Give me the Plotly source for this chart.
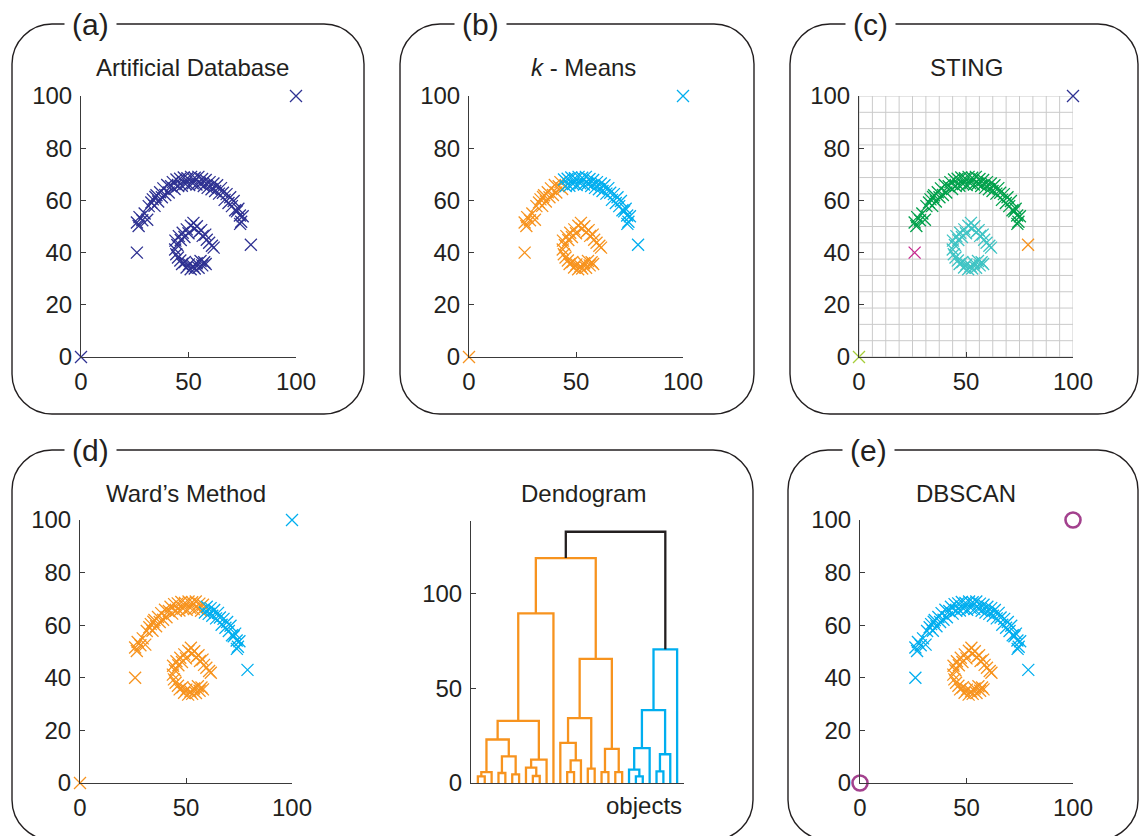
import plotly.graph_objects as go

W, H = 1139, 836
FONT = "Liberation Sans, Arial, Helvetica, sans-serif"
TXT = "#231F20"
AX = "#3A3A3A"

# ---------------- data ----------------
# arc-shaped cluster, ordered left to right
arc_x = [26.0, 27.2, 26.8, 28.5, 29.6, 30.8,
         31.5, 32.7, 33.4, 34.2, 35.1, 35.9, 36.8, 34.6,
         37.6, 38.3, 39.2, 40.1, 40.8, 41.9, 42.7, 43.5, 44.4, 45.2,
         46.1, 46.9, 47.8, 48.6, 49.5, 50.3, 51.2, 52.0, 52.9, 53.7, 54.6, 55.4,
         56.3, 57.1, 58.0, 58.9, 59.8, 60.7, 61.6, 62.4, 63.3, 64.2, 65.1,
         66.0, 66.8, 67.7, 68.6, 69.4, 70.2, 71.0, 71.7, 72.5, 73.2, 73.9, 74.5, 75.2, 74.0]
arc_y = [51.5, 53.6, 50.2, 52.4, 55.0, 52.6,
         57.8, 59.2, 60.4, 57.9, 62.0, 59.6, 63.1, 61.3,
         61.2, 64.6, 62.1, 65.9, 63.0, 65.4, 67.0, 64.4, 68.0, 65.5,
         68.3, 65.6, 68.8, 66.3, 68.5, 65.9, 69.0, 66.6, 68.7, 66.1, 69.0, 66.4,
         68.2, 65.5, 67.8, 64.8, 67.0, 64.3, 66.5, 63.6, 65.8, 62.6, 64.7,
         62.9, 60.2, 62.4, 59.0, 61.2, 57.8, 59.8, 56.2, 55.8, 56.8, 54.2, 51.8, 53.9, 51.0]
# ring-shaped cluster
ring_x = [43.9, 44.8, 45.5, 46.4, 47.3, 48.1, 49.2, 50.0, 51.1, 52.3, 52.8, 53.9, 54.8, 55.9, 56.6, 57.8, 58.5, 59.6, 60.9, 61.7,
          43.8, 44.3, 45.1, 46.2, 47.0, 48.3, 49.1, 50.2, 51.0, 52.1, 52.9, 53.8, 54.7, 55.6, 56.4, 57.3, 58.0]
ring_y = [44.6, 42.9, 46.3, 44.8, 47.6, 46.0, 48.9, 47.4, 50.3, 51.4, 49.2, 50.1, 47.8, 48.6, 46.4, 46.9, 44.9, 43.8, 42.6, 41.9,
          41.2, 39.4, 38.1, 37.0, 35.6, 36.4, 34.3, 35.5, 33.6, 34.8, 33.9, 35.9, 34.2, 36.8, 35.1, 36.3, 35.6]
# isolated points
out_x = [0, 100, 26, 79]
out_y = [0, 100, 40, 43]

# cluster labels per point (arc, ring, isolated)
kmeans_arc = "oooooo" "oooooooo" "oooooooocc" "cccccccccccc" "ccccccccccc" "cccccccccccccc"
kmeans_ring = "oooooooooooooooooooo" "ooooooooooooooooo"
kmeans_out = "ococ"
ward_arc = "oooooo" "oooooooo" "oooooooooo" "oooooooooooo" "ooocccccccc" "cccccccccccccc"
ward_ring = "oooooooooooooooooooo" "ooooooooooooooooo"
ward_out = "ococ"
sting_arc = "gggggg" "gggggggg" "gggggggggg" "gggggggggggg" "ggggggggggg" "gggggggggggggg"
sting_ring = "tttttttttttttttttttt" "ttttttttttttttttt"
sting_out = "ynmo"
dbscan_arc = "cccccc" "cccccccc" "cccccccccc" "cccccccccccc" "ccccccccccc" "cccccccccccccc"
dbscan_ring = "oooooooooooooooooooo" "ooooooooooooooooo"
dbscan_out = "ppcc"

# dendrogram (30 leaves in display order, ids 0..29; merged clusters get ids 30..)
dend_left = [0, 30, 3, 5, 32, 31, 8, 7, 37, 35, 39, 13, 41, 12, 16, 43, 18, 20, 46, 45, 40,
             23, 22, 52, 26, 54, 53, 56, 50]
dend_right = [1, 2, 4, 6, 33, 34, 9, 36, 10, 38, 11, 14, 15, 42, 17, 44, 19, 21, 47, 48, 49,
              24, 51, 25, 27, 28, 55, 29, 57]
dend_height = [3.5, 5.8, 5.3, 4.6, 14.1, 23.0, 3.7, 8.1, 12.4, 32.9, 89.7, 5.8, 12.0, 21.2, 7.6, 34.3,
               5.8, 5.8, 18.0, 65.7, 119.0, 3.5, 7.1, 18.5, 6.2, 15.2, 38.5, 70.7, 132.9]
dend_group = "ooooooooooooooooooooo" "ccccccc" "k"
n_leaves = 30

palette = {"n": "#2E3192", "o": "#F7931E", "c": "#00AEEF", "g": "#00A14B",
           "t": "#3FC4C4", "m": "#C7288F", "y": "#A6CE39", "p": "#A3418E", "k": "#231F20"}

all_x = arc_x + ring_x + out_x
all_y = arc_y + ring_y + out_y


# ---------------- helpers ----------------
def xd(p0, p1):
    return [p0 / W, p1 / W]


def yd(top, bottom):
    return [1 - bottom / H, 1 - top / H]


def px(x, y):
    return "%.5f,%.5f" % (x / W, 1 - y / H)


def rrect(x0, y0, x1, y1, r):
    k = 0.5523 * r
    return ("M" + px(x0 + r, y0) + " L" + px(x1 - r, y0) +
            " C" + px(x1 - r + k, y0) + " " + px(x1, y0 + r - k) + " " + px(x1, y0 + r) +
            " L" + px(x1, y1 - r) +
            " C" + px(x1, y1 - r + k) + " " + px(x1 - r + k, y1) + " " + px(x1 - r, y1) +
            " L" + px(x0 + r, y1) +
            " C" + px(x0 + r - k, y1) + " " + px(x0, y1 - r + k) + " " + px(x0, y1 - r) +
            " L" + px(x0, y0 + r) +
            " C" + px(x0, y0 + r - k) + " " + px(x0 + r - k, y0) + " " + px(x0 + r, y0) + " Z")


fig = go.Figure()


def add_points(labels, xa, ya):
    groups = {}
    for xv, yv, lab in zip(all_x, all_y, labels):
        groups.setdefault(lab, ([], []))
        groups[lab][0].append(xv)
        groups[lab][1].append(yv)
    for lab, (gx, gy) in groups.items():
        col = palette[lab]
        if lab == "p":
            mk = dict(symbol="circle-open", size=15, color=col, line=dict(width=2.6, color=col))
        else:
            mk = dict(symbol="x-thin", size=12, color=col, line=dict(width=1.3, color=col))
        fig.add_trace(go.Scatter(x=gx, y=gy, mode="markers", marker=mk, xaxis=xa, yaxis=ya,
                                 cliponaxis=False, showlegend=False, hoverinfo="skip"))


# (c) STING grid (16 x 16 cells)
cell = 100 / 16
gx, gy = [], []
for i in range(17):
    v = i * cell
    gx += [v, v, None, 0, 100, None]
    gy += [0, 100, None, v, v, None]
fig.add_trace(go.Scatter(x=gx, y=gy, mode="lines", line=dict(color="#CACACA", width=1),
                         xaxis="x3", yaxis="y3", showlegend=False, hoverinfo="skip"))

add_points("n" * len(all_x), "x", "y")
add_points(kmeans_arc + kmeans_ring + kmeans_out, "x2", "y2")
add_points(sting_arc + sting_ring + sting_out, "x3", "y3")
add_points(ward_arc + ward_ring + ward_out, "x4", "y4")
add_points(dbscan_arc + dbscan_ring + dbscan_out, "x6", "y6")

# dendrogram links
pos = {i: float(i + 1) for i in range(n_leaves)}
hgt = {i: 0.0 for i in range(n_leaves)}
segs = {}
for r, (a, b, h) in enumerate(zip(dend_left, dend_right, dend_height)):
    cid = n_leaves + r
    xs = [pos[a], pos[a], pos[b], pos[b], None]
    ys = [hgt[a], h, h, hgt[b], None]
    g = dend_group[r]
    segs.setdefault(g, ([], []))
    segs[g][0].extend(xs)
    segs[g][1].extend(ys)
    pos[cid] = (pos[a] + pos[b]) / 2
    hgt[cid] = h
for g, (sx, sy) in segs.items():
    fig.add_trace(go.Scatter(x=sx, y=sy, mode="lines", line=dict(color=palette[g], width=2.3),
                             xaxis="x5", yaxis="y5", showlegend=False, hoverinfo="skip",
                             cliponaxis=False))

# ---------------- axes ----------------
tickfont = dict(family=FONT, size=24, color=TXT)
base = dict(showline=True, linecolor=AX, linewidth=1, ticks="inside", ticklen=5, tickcolor=AX,
            tickwidth=1, showgrid=False, zeroline=False, tickfont=tickfont, fixedrange=True)
xsc = dict(base, range=[0, 100], tickvals=[0, 50, 100], ticklabelstandoff=3)
ysc = dict(base, range=[0, 100], tickvals=[0, 20, 40, 60, 80, 100], ticklabelstandoff=3)

lay = dict(
    width=W, height=H, margin=dict(l=0, r=0, t=0, b=0), template="none",
    paper_bgcolor="white", plot_bgcolor="rgba(0,0,0,0)", showlegend=False,
    xaxis=dict(xsc, domain=xd(81, 296), anchor="y"),
    yaxis=dict(ysc, domain=yd(96, 357), anchor="x"),
    xaxis2=dict(xsc, domain=xd(469, 683), anchor="y2"),
    yaxis2=dict(ysc, domain=yd(96, 357), anchor="x2"),
    xaxis3=dict(xsc, domain=xd(859, 1073), anchor="y3"),
    yaxis3=dict(ysc, domain=yd(96, 357), anchor="x3"),
    xaxis4=dict(xsc, domain=xd(80, 292), anchor="y4"),
    yaxis4=dict(ysc, domain=yd(520, 783), anchor="x4"),
    xaxis5=dict(base, range=[0, 31], showticklabels=False, ticks="", domain=xd(471, 684), anchor="y5"),
    yaxis5=dict(base, range=[0, 138.6], tickvals=[0, 50, 100], ticklabelstandoff=3,
                domain=yd(521, 783), anchor="x5"),
    xaxis6=dict(xsc, domain=xd(860, 1073), anchor="y6"),
    yaxis6=dict(ysc, domain=yd(520, 783), anchor="x6"),
)
fig.update_layout(**lay)

# ---------------- panel frames and texts ----------------
boxes = [(12, 24, 364, 414), (400, 24, 754, 414), (790, 24, 1138, 414),
         (12, 450, 753, 840), (788, 450, 1138, 840)]
for b in boxes:
    fig.add_shape(type="path", path=rrect(*b, 40), xref="paper", yref="paper",
                  line=dict(color=TXT, width=1.4), layer="below")


def ann(text, x, y, size, xanchor="center", bg=None):
    d = dict(text=text, x=x / W, y=1 - y / H, xref="paper", yref="paper", showarrow=False,
             xanchor=xanchor, yanchor="middle", font=dict(family=FONT, size=size, color=TXT))
    if bg:
        d.update(bgcolor=bg, borderpad=7)
    fig.add_annotation(**d)


for lab, x, y in [("(a)", 90, 24), ("(b)", 480, 24), ("(c)", 870, 24),
                  ("(d)", 90, 450), ("(e)", 868, 450)]:
    ann(lab, x, y, 30, bg="white")

ann("Artificial Database", 193, 68, 24)
ann("<i>k</i> - Means", 583, 68, 24)
ann("STING", 966, 68, 24)
ann("Ward’s Method", 186, 493, 24)
ann("Dendogram", 583, 493, 24)
ann("DBSCAN", 966, 493, 24)
ann("objects", 684, 805, 24, xanchor="right")

fig.write_html("out.html", config={"displayModeBar": False},
               post_script="document.body.style.margin='0';document.body.style.padding='0';")
